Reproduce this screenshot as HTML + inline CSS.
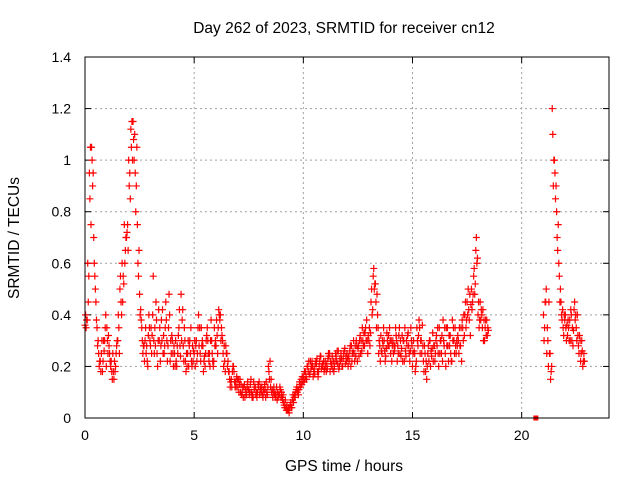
<!DOCTYPE html>
<html><head><meta charset="utf-8"><style>
body{margin:0;background:#fff}
svg{display:block;font-family:"Liberation Sans",sans-serif}
</style></head><body>
<svg id="chart" width="640" height="480"></svg>
<script>
const s1=[36,38,95,105,70,45,30,22,18,30,35,28,22,18,20,30,50,60,75,70,100,112,115,95,75,48,35,28,25,32,28,40,35,25,30,38,32,45,28,22,30,25,20,35,48,28,22,25,30,20,25,30,40,22,28,20,35,25,30,22,28,35,40,30,22,25,18,15,20,14,12,15,10,13,9,11,15,8,12,10,9,12,10,14,20,12,8,10,7,9,10,6,4,3,5,7,9,12,11,15,16,18,20,17,22,19,21,18,24,20,22,19,25,21,18,24,26,22,20,27,25,22,28,30,24,27,32,35,28,38,30,45,55,52,40,28,25,30,27,32,25,30,28,22,35,27,30,24,33,26,20,25,35,38,30,22,18,25,30,27,28,32,20,30,38,25,35,28,22,30,25,30,28,35,40,45,38,50,55,65,40,45,35,30,38,
40,45,30,25,120,100,80,60,45,35,40,32,38,30,42,35,28,22,20];
const s2=[40,60,85,100,60,38,25,18,22,35,30,25,18,15,25,40,55,45,60,72,90,105,108,80,60,40,30,22,28,40,35,55,28,20,35,30,25,38,35,30,25,20,28,42,30,22,18,30,25,28,30,22,28,35,18,25,30,20,25,35,38,42,30,25,18,20,15,12,18,12,15,10,12,8,12,9,10,14,9,13,11,9,13,10,18,15,10,8,10,12,8,5,3,4,6,9,8,10,14,13,14,16,18,22,20,17,23,20,19,22,20,23,18,24,20,22,19,25,23,21,23,26,22,25,30,28,25,30,33,30,35,50,58,45,35,22,30,26,33,28,30,25,35,28,25,32,22,30,28,35,25,18,30,35,25,18,22,28,20,33,22,28,35,25,30,20,28,32,38,25,30,25,35,30,45,40,48,42,58,70,45,38,42,35,32,
30,50,20,15,110,95,70,55,40,32,35,38,30,35,45,30,25,25,22];
const s3=[35,45,105,90,55,35,20,25,30,40,25,22,15,22,28,35,45,55,65,75,95,115,100,90,55,42,25,30,22,35,25,30,45,30,22,42,28,30,48,25,20,30,25,28,38,35,25,20,35,22,20,25,35,28,22,30,25,30,22,28,32,40,35,20,28,22,12,18,14,16,10,13,8,11,14,10,8,11,10,12,12,8,11,9,15,10,12,9,8,11,7,4,5,2,4,6,10,11,13,16,18,15,22,19,16,21,18,22,20,18,18,25,22,19,22,26,20,23,25,24,20,28,25,22,28,24,30,28,35,25,28,40,50,35,25,32,28,22,30,35,22,28,32,25,30,22,35,28,25,30,30,20,28,25,36,28,15,22,26,22,25,35,25,32,28,35,22,25,30,35,28,35,22,40,35,50,32,45,48,60,35,42,30,38,35,
35,25,45,18,90,85,65,45,38,40,30,35,42,28,38,40,32,30,25];
const s4=[38,55,75,95,50,28,22,30,26,20,32,20,25,18,30,25,40,52,70,65,85,100,110,105,65,38,28,35,20,30,32,25,38,42,28,25,35,22,40,32,28,22,32,24,42,30,20,28,22,26,28,35,25,30,24,32,22,38,20,30,25,38,32,28,25,18,14,20,12,15,13,9,12,10,11,13,9,12,8,14,10,11,8,12,22,11,9,12,9,8,9,7,3,4,4,8,11,9,12,14,15,20,17,20,18,22,16,24,21,19,21,24,20,22,25,21,23,20,26,22,24,20,26,28,22,30,26,33,30,32,33,42,52,48,30,26,35,24,28,30,28,26,30,32,24,30,26,32,22,28,26,22,32,30,28,25,20,30,24,28,30,25,30,22,35,28,32,22,35,28,32,28,38,32,38,42,44,48,52,62,38,40,38,32,34,
45,35,25,20,100,90,75,50,42,38,36,30,40,34,40,32,30,26,22];
const xTicks=[0,5,10,15,20];
const yTicks=[0,0.2,0.4,0.6,0.8,1,1.2,1.4];
const yTickLabels=["0","0.2","0.4","0.6","0.8","1","1.2","1.4"];
const times=[];
for(let i=0;i<185;i++)times.push(i*0.1);
for(let i=0;i<19;i++)times.push(21+i*0.1);

const L=85,R=609,T=57,B=418;
const X=v=>L+(v/24)*(R-L);
const Y=v=>B-(v/1.4)*(B-T);
const NS="http://www.w3.org/2000/svg";
const svg=document.getElementById('chart');
function mk(tag,attrs,parent){const e=document.createElementNS(NS,tag);for(const k in attrs)e.setAttribute(k,attrs[k]);(parent||svg).appendChild(e);return e;}

xTicks.forEach(t=>{
  const x=X(t);
  if(t>0){const g=mk('line',{x1:x,y1:T,x2:x,y2:B,stroke:'#a0a0a0','stroke-dasharray':'2,3'});
  
  }
  mk('line',{x1:x,y1:B,x2:x,y2:B-6,stroke:'#000'});
  mk('line',{x1:x,y1:T,x2:x,y2:T+6,stroke:'#000'});
  const tx=mk('text',{x:x,y:B+22,'text-anchor':'middle','font-size':'14'});
  tx.textContent=t;
  
  
});
yTicks.forEach((t,i)=>{
  const y=Y(t);
  if(t>0&&t<1.4){const g=mk('line',{x1:L,y1:y,x2:R,y2:y,stroke:'#a0a0a0','stroke-dasharray':'2,3'});
  
  }
  mk('line',{x1:L,y1:y,x2:L+6,y2:y,stroke:'#000'});
  mk('line',{x1:R,y1:y,x2:R-6,y2:y,stroke:'#000'});
  const tx=mk('text',{x:L-14,y:y+5,'text-anchor':'end','font-size':'14'});
  tx.textContent=yTickLabels[i];
  
  
});

const pts=mk('g',{stroke:'#ff0000','stroke-width':'1.2',fill:'none'});


[s1,s2,s3,s4].forEach((s,si)=>{
  s.forEach((v,i)=>{
    const x=X(times[i]+si*0.025),y=Y(v/100);
    const p=mk('path',{d:`M${x-3.5},${y}H${x+3.5}M${x},${y-3.5}V${y+3.5}`},pts);
    
    
  });
});
const sq=mk('rect',{x:X(20.65)-2.5,y:Y(0)-2.5,width:5,height:5,fill:'#ff0000'});



const fr=mk('rect',{x:L,y:T,width:R-L,height:B-T,fill:'none',stroke:'#000'});



const title=mk('text',{x:344,y:33,'text-anchor':'middle','font-size':'15.5'});
title.textContent='Day 262 of 2023, SRMTID for receiver cn12';


const xl=mk('text',{x:344,y:471,'text-anchor':'middle','font-size':'15.5'});
xl.textContent='GPS time / hours';


const yl=mk('text',{x:19,y:238,'text-anchor':'middle','font-size':'15.5',transform:'rotate(-90 19 238)'});
yl.textContent='SRMTID / TECUs';


</script>
</body></html>
